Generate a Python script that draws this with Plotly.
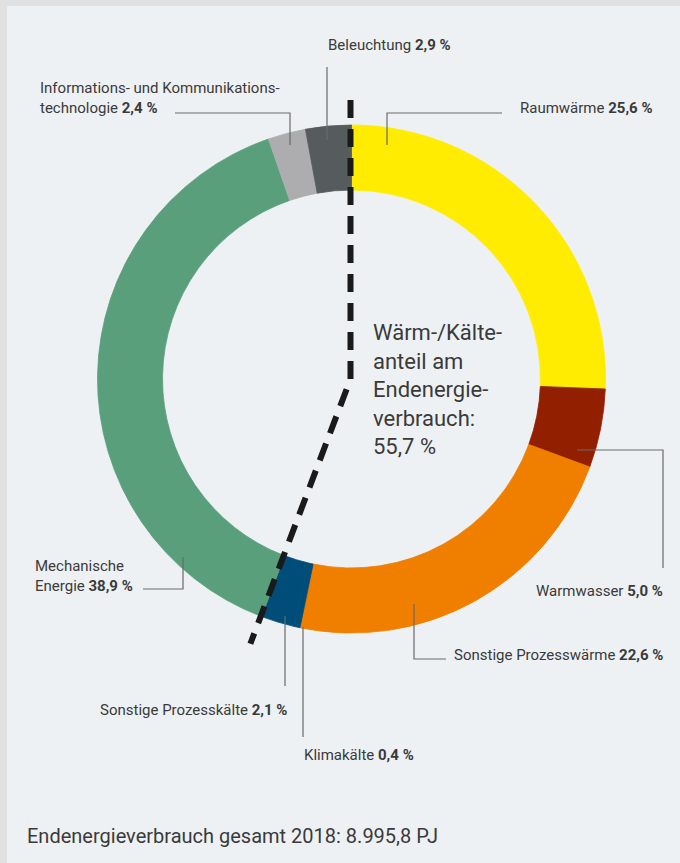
import math
import plotly.graph_objects as go

# ---- data ----
categories = ["Raumwärme", "Warmwasser", "Sonstige Prozesswärme", "Klimakälte",
              "Sonstige Prozesskälte", "Mechanische Energie",
              "Informations- und Kommunikationstechnologie", "Beleuchtung"]
shares = [25.6, 5.0, 22.6, 0.4, 2.1, 38.9, 2.4, 2.9]
value_labels = ["25,6 %", "5,0 %", "22,6 %", "0,4 %", "2,1 %", "38,9 %", "2,4 %", "2,9 %"]
colors = ["#ffec00", "#921f00", "#f07f00", "#004d7a", "#004d7a", "#5a9f7b", "#adadaf", "#565b5d"]
heat_cold_count = 5  # first five categories = Wärme/Kälte
center_text = "Wärm-/Kälte-<br>anteil am<br>Endenergie-<br>verbrauch:<br>55,7 %"
footer_text = "Endenergieverbrauch gesamt 2018: 8.995,8 PJ"

W, H = 680, 863
FONT = "Roboto, sans-serif"
TXT = "#3a3a3a"

def px(x):
    return x / W

def py(y):
    return 1 - y / H

# pie geometry (pixels)
CX, CY, R = 351.5, 379.0, 254.0

fig = go.Figure(go.Pie(
    labels=categories, values=shares, sort=False, direction="clockwise", rotation=0,
    hole=0.744, marker=dict(colors=colors, line=dict(width=0.8, color=colors)),
    textinfo="none", hoverinfo="label+percent", showlegend=False,
    domain=dict(x=[px(CX - R), px(CX + R)], y=[py(CY + R), py(CY - R)]),
))

shapes = []
# outer frame strips
shapes.append(dict(type="rect", xref="paper", yref="paper", x0=0, x1=px(7), y0=0, y1=1,
                   fillcolor="#e1e1e1", line=dict(width=0), layer="below"))
shapes.append(dict(type="rect", xref="paper", yref="paper", x0=0, x1=1, y0=py(6), y1=1,
                   fillcolor="#e1e1e1", line=dict(width=0), layer="below"))

# dashed boundary line (angle from data)
frac = sum(shares[:heat_cold_count]) / sum(shares)
ang = 2 * math.pi * frac
r_top, r_end = 279, 283
lx = CX - 1
x_top, y_top = lx, CY - r_top
x_end = lx + r_end * math.sin(ang)
y_end = CY - r_end * math.cos(ang)
path = f"M {px(x_top)},{py(y_top)} L {px(lx)},{py(CY)} L {px(x_end)},{py(y_end)}"
shapes.append(dict(type="path", xref="paper", yref="paper", path=path,
                   line=dict(color="#1a1a1a", width=6, dash="18px,11px")))

# leader lines (pixel polylines)
leaders = [
    [(327, 67), (327, 140)],                   # Beleuchtung
    [(175, 113), (290, 113), (290, 145)],      # IKT
    [(502, 113), (387, 113), (387, 145)],      # Raumwärme
    [(577, 450), (663, 450), (663, 568)],      # Warmwasser
    [(414, 604), (414, 659), (446, 659)],      # Sonstige Prozesswärme
    [(143, 589), (183, 589), (183, 557)],      # Mechanische Energie
    [(285, 616), (285, 686)],                  # Sonstige Prozesskälte
    [(303, 627), (303, 737)],                  # Klimakälte
]
for pts in leaders:
    d = "M " + " L ".join(f"{px(x)},{py(y)}" for x, y in pts)
    shapes.append(dict(type="path", xref="paper", yref="paper", path=d,
                       line=dict(color="#6a6a6a", width=1.2)))

def lab(i):
    return f"{categories[i]} <b>{value_labels[i]}</b>"

annotations = [
    dict(text=lab(7), x=px(326), y=py(45), xanchor="left"),
    dict(text=f"Informations- und Kommunikations-<br>technologie <b>{value_labels[6]}</b>",
         x=px(38), y=py(98), xanchor="left", align="left"),
    dict(text=lab(0), x=px(518), y=py(108), xanchor="left"),
    dict(text=lab(1), x=px(665), y=py(591), xanchor="right"),
    dict(text=lab(2), x=px(665), y=py(655), xanchor="right"),
    dict(text=f"Mechanische<br>Energie <b>{value_labels[5]}</b>",
         x=px(33), y=py(576), xanchor="left", align="left"),
    dict(text=lab(4), x=px(289), y=py(710), xanchor="right"),
    dict(text=lab(3), x=px(302), y=py(755), xanchor="left"),
]
for a in annotations:
    a.update(xref="paper", yref="paper", yanchor="middle", showarrow=False,
             font=dict(family=FONT, size=15, color=TXT))

annotations.append(dict(text=center_text, x=px(371), y=py(389), xref="paper", yref="paper",
                        xanchor="left", yanchor="middle", align="left", showarrow=False,
                        font=dict(family=FONT, size=22, color=TXT)))
annotations.append(dict(text=footer_text, x=px(25), y=py(836), xref="paper", yref="paper",
                        xanchor="left", yanchor="middle", showarrow=False,
                        font=dict(family=FONT, size=20, color=TXT)))

fig.update_layout(
    width=W, height=H, margin=dict(l=0, r=0, t=0, b=0),
    paper_bgcolor="#eef1f4", plot_bgcolor="#eef1f4",
    shapes=shapes, annotations=annotations, font=dict(family=FONT),
)

fig.write_html("out.html", config={"displayModeBar": False},
               post_script="document.body.style.margin='0';document.body.style.padding='0';")
